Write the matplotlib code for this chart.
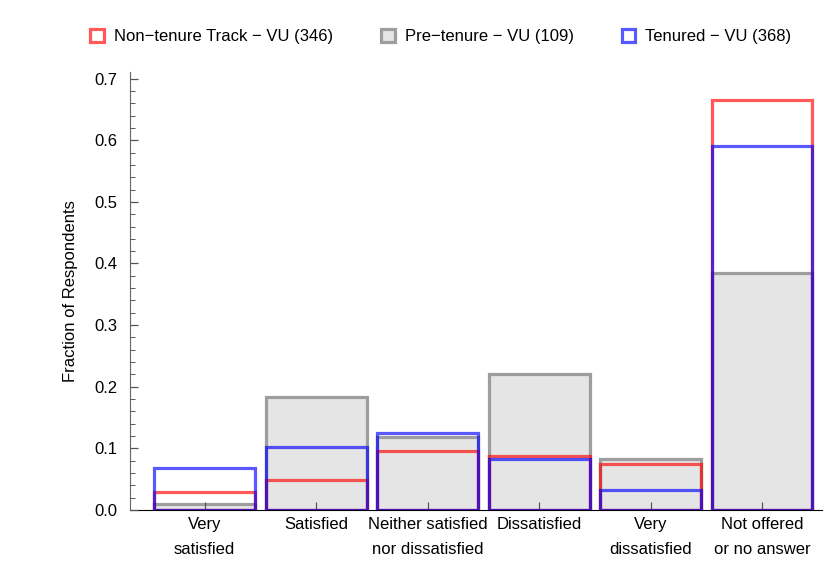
import numpy as np
import matplotlib
matplotlib.use('Agg')
import matplotlib.pyplot as plt
from matplotlib.patches import Patch
from matplotlib.ticker import MultipleLocator

plt.rcParams['font.family'] = ['Liberation Sans', 'DejaVu Sans']

categories = ['Very\nsatisfied', 'Satisfied', 'Neither satisfied\nnor dissatisfied',
              'Dissatisfied', 'Very\ndissatisfied', 'Not offered\nor no answer']

# fractions of respondents per group
non_tenure = [0.029, 0.049, 0.095, 0.087, 0.075, 0.665]
pre_tenure = [0.009, 0.183, 0.119, 0.220, 0.083, 0.385]
tenured = [0.068, 0.103, 0.125, 0.082, 0.033, 0.590]

labels = ['Non\u2212tenure Track \u2212 VU (346)',
          'Pre\u2212tenure \u2212 VU (109)',
          'Tenured \u2212 VU (368)']

red = (1.0, 0.0, 0.0, 0.65)
gray = (0.6, 0.6, 0.6, 0.95)
blue = (0.0, 0.0, 1.0, 0.65)
fill_gray = (0.898, 0.898, 0.898)

fig = plt.figure(figsize=(8.24, 5.61), dpi=100)
ax = fig.add_axes([0.1578, 0.0909, 0.84, 0.7800])

x = np.arange(len(categories))
w = 0.905
lw = 2.3

ax.bar(x, pre_tenure, width=w, facecolor=fill_gray, edgecolor=gray, linewidth=lw, zorder=2)
ax.bar(x, non_tenure, width=w, facecolor='none', edgecolor=red, linewidth=lw, zorder=3)
ax.bar(x, tenured, width=w, facecolor='none', edgecolor=blue, linewidth=lw, zorder=4)

ax.set_xlim(-0.67, 5.54)
ax.set_ylim(0, 0.71)
ax.set_xticks(x)
ax.set_xticklabels(categories, fontsize=12, linespacing=1.85)
ax.yaxis.set_major_locator(MultipleLocator(0.1))
ax.yaxis.set_minor_locator(MultipleLocator(0.02))
ax.set_yticks([0.0, 0.1, 0.2, 0.3, 0.4, 0.5, 0.6, 0.7])
ax.set_yticklabels(['0.0', '0.1', '0.2', '0.3', '0.4', '0.5', '0.6', '0.7'], fontsize=12)
ax.tick_params(axis='both', which='major', direction='in', length=6, width=0.9, colors='#555555',
               labelcolor='black')
ax.tick_params(axis='y', which='minor', direction='in', length=3.5, width=0.7, colors='#555555')
ax.tick_params(axis='x', which='major', pad=5)
ax.tick_params(axis='y', which='major', pad=9)
ax.set_ylabel('Fraction of Respondents', fontsize=12, labelpad=12)
ax.set_axisbelow(False)

for s in ['top', 'right']:
    ax.spines[s].set_visible(False)
ax.spines['left'].set_color('#666666')
ax.spines['bottom'].set_color('black')
ax.spines['bottom'].set_zorder(1)

handles = [Patch(facecolor='white', edgecolor=red, linewidth=2.3),
           Patch(facecolor=fill_gray, edgecolor=gray, linewidth=2.3),
           Patch(facecolor='white', edgecolor=blue, linewidth=2.3)]
fig.legend(handles, labels, loc='upper center', bbox_to_anchor=(0.535, 0.975), ncol=3,
           frameon=False, fontsize=12, handlelength=0.8, handleheight=0.8,
           handletextpad=0.6, columnspacing=2.9)

fig.savefig('out.png', dpi=100)
